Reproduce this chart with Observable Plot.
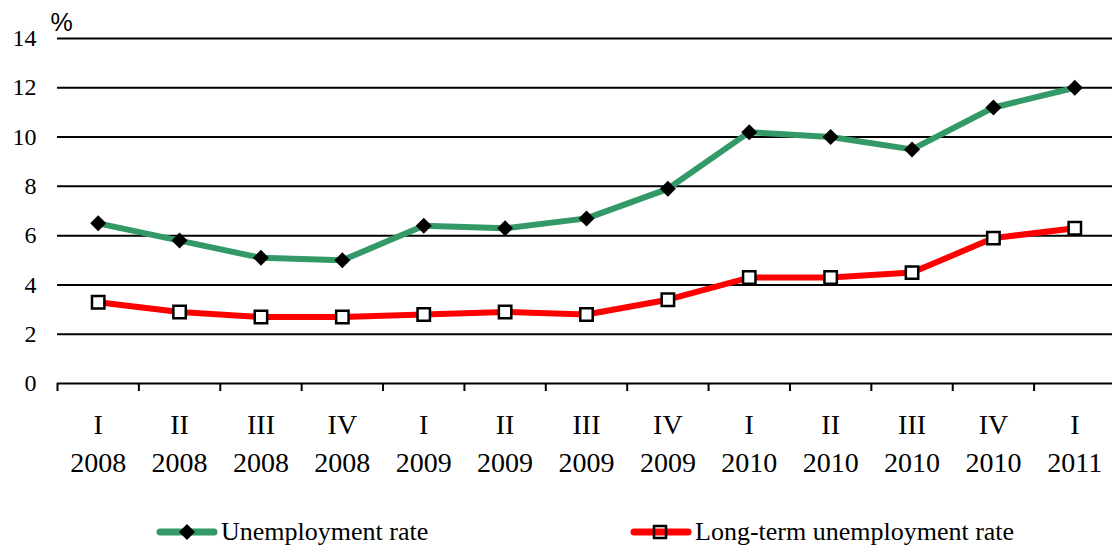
<!DOCTYPE html>
<html><head><meta charset="utf-8">
<script src="https://cdn.jsdelivr.net/npm/d3@7"></script>
<script src="https://cdn.jsdelivr.net/npm/@observablehq/plot@0.6"></script>
<style>
body{margin:0;background:#fff;}
#wrap{position:relative;width:1112px;height:547px;overflow:hidden;background:#fff;}
#chart svg{display:block;}
.item{position:absolute;top:517px;height:30px;display:flex;align-items:center;font-family:"Liberation Serif","Times New Roman",serif;font-size:26px;color:#000;white-space:nowrap;}
.item svg{display:block;margin-right:3px;}
</style></head><body>
<div id="wrap"><div id="chart"></div>
<div class="item" style="left:155px"><svg id="sw1" width="63" height="30"></svg><span id="t1"></span></div>
<div class="item" style="left:629px"><svg id="sw2" width="63" height="30"></svg><span id="t2"></span></div>
</div>
<script>
const quarters = ["I","II","III","IV","I","II","III","IV","I","II","III","IV","I"];
const years = ["2008","2008","2008","2008","2009","2009","2009","2009","2010","2010","2010","2010","2011"];
const unemployment = [6.5,5.8,5.1,5.0,6.4,6.3,6.7,7.9,10.2,10.0,9.5,11.2,12.0];
const longTerm = [3.3,2.9,2.7,2.7,2.8,2.9,2.8,3.4,4.3,4.3,4.5,5.9,6.3];
const yTicks = [0,2,4,6,8,10,12,14];
const seriesNames = ["Unemployment rate","Long-term unemployment rate"];
const unitLabel = "%";

const idx = quarters.map((_, i) => i);
const labels = quarters.map((q, i) => q + "\n" + years[i]);
const boundaries = idx.map(i => i - 0.5);
const rowsU = idx.map(i => ({i, v: unemployment[i]}));
const rowsL = idx.map(i => ({i, v: longTerm[i]}));

const serif = "'Liberation Serif','Times New Roman',serif";
const plot = Plot.plot({
  width: 1112, height: 500,
  marginLeft: 57, marginRight: 0, marginTop: 38, marginBottom: 117,
  style: {fontFamily: serif, color: "#000", background: "#fff", overflow: "visible"},
  x: {type: "linear", domain: [-0.5, 12.5], range: [57, 1115]},
  y: {domain: [0, 14]},
  marks: [
    Plot.ruleY(yTicks, {stroke: "#000", strokeWidth: 2}),
    Plot.axisY({ticks: yTicks, tickSize: 0, tickPadding: 21, fontSize: 24, fontFamily: serif, tickFormat: d => String(d), label: null}),
    Plot.axisX({ticks: boundaries, tickSize: 8, strokeWidth: 2, tickFormat: () => "", label: null}),
    Plot.axisX({ticks: idx, tickSize: 0, tickPadding: 23, fontSize: 28, fontFamily: serif, lineHeight: 1.36, tickFormat: i => labels[i], label: null}),
    Plot.text([unitLabel], {frameAnchor: "top-left", dx: -7, dy: -16, textAnchor: "start", lineAnchor: "middle", fontSize: 25, fontFamily: "'Liberation Sans',Arial,sans-serif", fill: "#000"}),
    Plot.line(rowsU, {x: "i", y: "v", stroke: "#339966", strokeWidth: 6, strokeLinejoin: "round"}),
    Plot.line(rowsL, {x: "i", y: "v", stroke: "#ff0000", strokeWidth: 6, strokeLinejoin: "round"}),
    Plot.dot(rowsU, {x: "i", y: "v", symbol: "diamond2", r: 7.2, fill: "#000", stroke: "none"}),
    Plot.dot(rowsL, {x: "i", y: "v", symbol: "square", r: 7, fill: "#fff", stroke: "#000", strokeWidth: 2.5})
  ]
});
document.getElementById("chart").appendChild(plot);

document.getElementById("t1").textContent = seriesNames[0];
document.getElementById("t2").textContent = seriesNames[1];
const s1 = d3.select("#sw1");
s1.append("line").attr("x1", 5).attr("x2", 59).attr("y1", 15).attr("y2", 15).attr("stroke", "#339966").attr("stroke-width", 7).attr("stroke-linecap", "round");
s1.append("path").attr("d", "M32,7L40,15L32,23L24,15Z").attr("fill", "#000");
const s2 = d3.select("#sw2");
s2.append("line").attr("x1", 5).attr("x2", 59).attr("y1", 15).attr("y2", 15).attr("stroke", "#ff0000").attr("stroke-width", 7).attr("stroke-linecap", "round");
s2.append("rect").attr("x", 25).attr("y", 9).attr("width", 12).attr("height", 12).attr("fill", "none").attr("stroke", "#000").attr("stroke-width", 2.5);
</script>
</body></html>
